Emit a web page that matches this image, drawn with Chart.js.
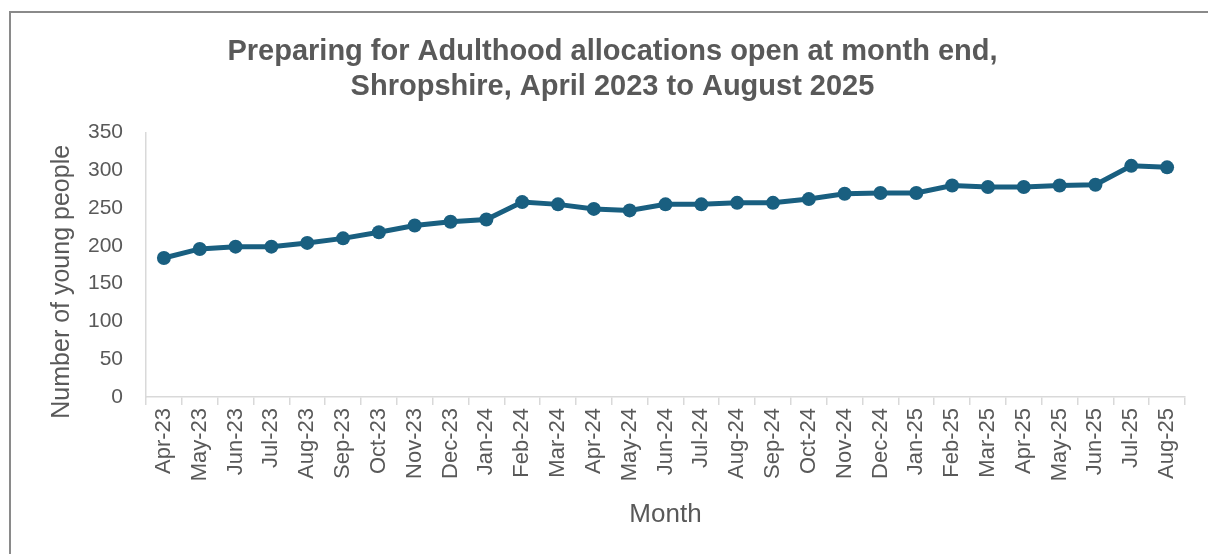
<!DOCTYPE html>
<html>
<head>
<meta charset="utf-8">
<script src="https://cdn.jsdelivr.net/npm/chart.js@4"></script>
<style>
  html, body { margin: 0; padding: 0; background: #fff; overflow: hidden; }
  #wrap { position: relative; width: 1208px; height: 554px; overflow: hidden; }
  #frame { position: absolute; left: 9px; top: 11px; width: 1300px; height: 600px; border-left: 2px solid #8a8a8a; border-top: 2px solid #8a8a8a; }
  #chart { position: absolute; left: 0; top: 0; }
</style>
</head>
<body>
<div id="wrap">
  <div id="frame"></div>
  <canvas id="chart" width="1208" height="554"></canvas>
</div>
<script>
// months shown on the x axis
var months = ["Apr-23", "May-23", "Jun-23", "Jul-23", "Aug-23", "Sep-23", "Oct-23", "Nov-23", "Dec-23",
    "Jan-24", "Feb-24", "Mar-24", "Apr-24", "May-24", "Jun-24", "Jul-24", "Aug-24", "Sep-24", "Oct-24",
    "Nov-24", "Dec-24", "Jan-25", "Feb-25", "Mar-25", "Apr-25", "May-25", "Jun-25", "Jul-25", "Aug-25"];

// allocations open at month end
var openAllocations = [184, 196, 199, 199, 204, 210, 218, 227, 232, 235, 258, 255, 249, 247, 255,
    255, 257, 257, 262, 269, 270, 270, 280, 278, 278, 280, 281, 306, 304];

var titleLines = ["Preparing for Adulthood allocations open at month end,", "Shropshire, April 2023 to August 2025"];
var yTitle = "Number of young people";

var textGrey = "#595959";
var axisGrey = "#d9d9d9";
var lineBlue = "#195f80";
var fontName = "'Liberation Sans', Arial, sans-serif";

// y axis title sits a bit below the middle of the axis in the original, so draw it by hand
var yTitlePlugin = {
    id: "yTitle",
    afterDraw: function (c) {
        var area = c.chartArea;
        var g = c.ctx;
        g.save();
        g.translate(62, (area.top + area.bottom) / 2 + 17);
        g.rotate(-Math.PI / 2);
        g.fillStyle = textGrey;
        g.font = "25px " + fontName;
        g.textAlign = "center";
        g.textBaseline = "middle";
        g.fillText(yTitle, 0, 0);
        g.restore();
    }
};

var ctx = document.getElementById("chart");
var chart = new Chart(ctx, {
    type: "line",
    data: {
        labels: months,
        datasets: [{
            data: openAllocations,
            borderColor: lineBlue,
            backgroundColor: lineBlue,
            borderWidth: 5,
            pointRadius: 7,
            pointBackgroundColor: lineBlue,
            pointBorderWidth: 0,
            tension: 0
        }]
    },
    plugins: [yTitlePlugin],
    options: {
        responsive: false,
        animation: false,
        layout: { padding: { left: 40, right: 23, top: 35, bottom: 10 } },
        plugins: {
            legend: { display: false },
            tooltip: { enabled: false },
            title: {
                display: true,
                text: titleLines,
                color: textGrey,
                font: { family: fontName, size: 29, weight: "bold", lineHeight: 1.2 },
                padding: { top: 0, bottom: 28 }
            }
        },
        scales: {
            x: {
                offset: true,
                afterFit: function (scale) { scale.height = 147; },
                grid: {
                    display: true,
                    drawOnChartArea: false,
                    drawTicks: true,
                    tickLength: 8,
                    offset: true,
                    color: axisGrey,
                    lineWidth: 1.5
                },
                border: { display: true, color: axisGrey, width: 1.5 },
                ticks: {
                    color: textGrey,
                    font: { family: fontName, size: 22 },
                    minRotation: 90,
                    maxRotation: 90,
                    autoSkip: false,
                    padding: 3
                },
                title: {
                    display: true,
                    text: "Month",
                    color: textGrey,
                    font: { family: fontName, size: 26 },
                    padding: { top: 0, bottom: 14 }
                }
            },
            y: {
                min: 0,
                max: 350,
                afterFit: function (scale) { scale.width = 106; },
                grid: { display: false, drawTicks: false },
                border: { display: true, color: axisGrey, width: 1.5 },
                ticks: {
                    stepSize: 50,
                    color: textGrey,
                    font: { family: fontName, size: 21 },
                    padding: 23
                }
            }
        }
    }
});
</script>
</body>
</html>
